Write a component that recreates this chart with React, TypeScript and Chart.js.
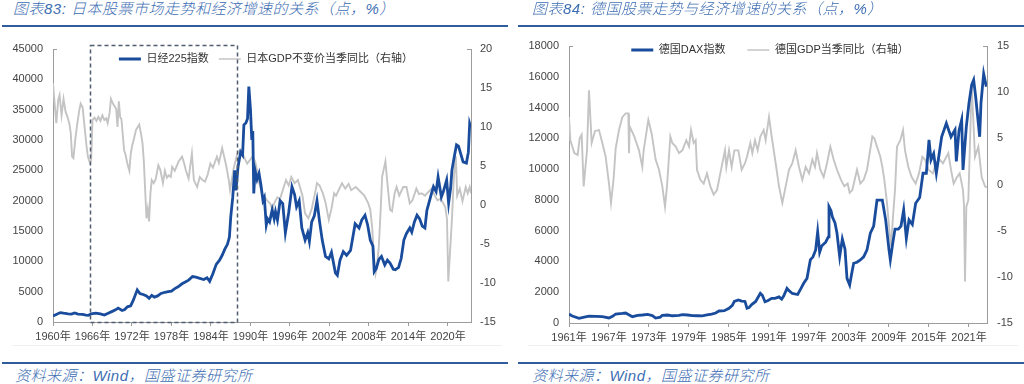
import React, { useEffect, useRef } from 'react';
import { Chart, registerables } from 'chart.js';

Chart.register(...registerables);

// ---------------- Data: Japan ----------------
const jpYears = [1960.0,1960.5,1961.1,1961.6,1962.3,1962.8,1963.3,1963.8,1964.5,1965.0,1965.4,1965.8,1966.5,1967.2,1967.8,1968.3,1969.0,1969.5,1969.9,1970.5,1970.9,1971.3,1971.8,1972.2,1972.8,1973.2,1973.8,1974.2,1974.6,1975.0,1975.4,1975.9,1976.4,1977.0,1977.5,1978.0,1978.5,1979.0,1979.6,1980.1,1980.6,1981.2,1981.7,1982.3,1982.9,1983.4,1983.8,1984.3,1984.8,1985.3,1985.7,1986.1,1986.5,1986.8,1987.0,1987.3,1987.6,1987.8,1988.1,1988.5,1988.8,1989.0,1989.3,1989.55,1989.75,1990.0,1990.2,1990.35,1990.5,1990.7,1991.0,1991.3,1991.6,1991.9,1992.1,1992.4,1992.6,1992.9,1993.3,1993.6,1993.8,1994.1,1994.5,1994.9,1995.3,1995.8,1996.3,1996.7,1997.0,1997.4,1997.8,1998.3,1998.7,1998.95,1999.3,1999.7,2000.1,2000.5,2000.9,2001.4,2001.9,2002.3,2002.9,2003.2,2003.6,2004.1,2004.6,2005.2,2005.9,2006.5,2006.9,2007.4,2007.8,2008.2,2008.6,2008.8,2009.1,2009.5,2009.9,2010.4,2010.8,2011.2,2011.7,2012.0,2012.5,2012.9,2013.3,2013.7,2014.2,2014.5,2014.9,2015.3,2015.7,2016.1,2016.5,2016.8,2017.5,2017.8,2018.2,2018.5,2019.0,2019.3,2019.8,2020.1,2020.4,2020.6,2021.0,2021.3,2021.6,2022.0,2022.3,2022.8,2023.1,2023.3,2023.5];
const nikkei = [1000,1250,1550,1450,1350,1300,1500,1300,1250,1150,1100,1350,1450,1350,1150,1400,1750,2000,2300,1900,2050,2500,2650,3600,5300,4700,4500,4300,3900,4400,4100,4300,4700,4900,5000,5100,5500,5800,6300,6600,6900,7500,7400,7200,7000,7300,6700,8000,9500,10200,11000,12000,12800,14000,17300,20500,25000,21700,25500,28000,27500,32500,32800,33500,38800,35000,30000,31500,21200,25000,23500,24500,22500,20000,20500,16000,17000,16500,18500,17000,18200,16800,20000,19500,14700,18000,22300,21000,19000,20000,15500,13500,14700,13300,16500,17500,20000,16500,13500,10800,10400,11500,8100,7700,10200,11600,11000,11800,16200,15500,16800,17600,16000,13500,12500,8300,8800,10300,10800,9400,10200,9700,8700,8600,9000,10500,13500,14600,15500,14800,16500,17600,17000,15800,15500,18400,21200,22300,21500,23900,20600,21500,23400,19600,22000,25000,27500,29200,29000,27500,26400,26200,28000,32700,32000];

const jpGdpYears = [1960.0,1960.3,1960.5,1960.8,1961.0,1961.3,1961.6,1961.9,1962.2,1962.5,1962.7,1962.9,1963.1,1963.4,1963.7,1964.0,1964.2,1964.5,1964.8,1965.1,1965.3,1965.6,1965.8,1966.0,1966.3,1966.6,1966.9,1967.2,1967.5,1967.8,1968.1,1968.3,1968.6,1968.8,1969.1,1969.4,1969.6,1969.8,1970.0,1970.2,1970.4,1970.8,1971.0,1971.3,1971.6,1971.8,1972.0,1972.3,1972.6,1973.1,1973.4,1973.6,1973.8,1974.0,1974.2,1974.4,1974.6,1974.8,1975.0,1975.3,1975.6,1976.0,1976.3,1976.7,1977.0,1977.3,1977.6,1977.9,1978.1,1978.5,1979.1,1979.6,1979.9,1980.2,1980.6,1981.1,1981.4,1981.9,1982.3,1982.7,1983.1,1983.5,1983.9,1984.3,1984.9,1985.2,1985.7,1986.3,1986.7,1986.9,1987.4,1988.0,1988.5,1989.0,1989.5,1990.3,1990.7,1991.0,1991.3,1991.8,1992.2,1992.5,1993.0,1993.3,1993.7,1994.1,1994.5,1994.9,1995.4,1995.8,1996.2,1996.7,1997.2,1997.9,1998.1,1998.3,1998.8,1999.3,1999.9,2000.1,2000.5,2001.0,2001.4,2001.9,2002.3,2002.7,2003.0,2003.9,2004.4,2004.9,2005.3,2006.0,2006.6,2007.3,2007.9,2008.2,2008.5,2008.7,2009.0,2009.2,2009.5,2009.8,2010.0,2010.5,2010.8,2011.2,2011.5,2011.9,2012.2,2012.6,2013.2,2013.7,2014.2,2014.6,2015.2,2015.6,2016.0,2016.5,2017.5,2018.0,2018.4,2018.9,2019.3,2019.6,2019.85,2020.05,2020.6,2020.9,2021.2,2021.4,2021.8,2022.2,2022.7,2023.0,2023.3,2023.5];
const jpGdp = [15.6,12.5,10.5,13.5,14.1,11.5,13.6,12.0,11.3,10.4,9.2,6.2,6.0,8.5,10.5,12.2,13.0,12.5,10.0,7.5,6.2,5.4,5.8,10.9,11.2,10.8,11.3,10.8,11.5,10.9,11.1,10.5,11.8,13.6,13.0,12.6,12.3,10.0,13.3,11.3,11.0,7.0,6.5,5.3,4.4,6.5,7.5,8.5,9.6,10.3,9.0,7.9,5.6,1.9,-1.7,-0.5,-2.1,1.5,3.2,2.8,3.3,5.1,4.5,2.8,4.4,3.5,3.8,3.6,4.9,4.4,5.6,6.2,5.4,4.4,3.4,6.6,3.2,2.3,3.6,3.2,3.0,3.9,5.3,4.8,6.2,5.4,7.3,5.1,3.2,1.9,4.5,6.6,7.1,6.2,5.3,6.2,5.6,4.5,2.9,1.3,1.0,0.6,0.2,-0.5,0.4,1.0,0.8,1.9,3.2,2.5,3.6,2.8,3.2,1.2,0.0,-1.1,-1.7,-0.5,1.9,2.8,2.5,1.5,0.3,-1.9,-0.5,1.5,1.2,2.8,2.1,2.7,1.9,2.3,1.8,1.2,0.2,-0.6,-3.0,-6.1,-8.8,-8.0,-5.3,-0.2,3.6,5.6,2.8,-0.6,-0.8,1.5,2.3,1.2,2.3,2.3,0.2,0.6,2.1,1.4,1.5,1.2,2.1,1.2,0.6,0.8,0.2,-0.3,-1.8,-9.8,-1.9,3.6,6.2,1.2,2.1,0.5,2.3,1.5,2.3,1.5];

// ---------------- Data: Germany ----------------
const deYears = [1961.0,1961.5,1962.5,1963.3,1964.0,1965.0,1966.0,1967.0,1967.6,1968.0,1969.0,1969.5,1970.5,1971.3,1972.0,1972.8,1973.5,1974.0,1974.7,1975.0,1975.8,1976.5,1977.5,1978.0,1978.8,1979.5,1980.3,1981.0,1981.7,1982.4,1983.0,1983.5,1984.3,1985.0,1985.5,1985.8,1986.4,1986.9,1987.4,1987.7,1988.0,1988.4,1989.0,1989.7,1990.0,1990.4,1990.8,1991.4,1991.9,1992.5,1992.9,1993.2,1993.7,1994.0,1994.5,1995.3,1995.8,1996.2,1996.7,1997.2,1997.6,1998.0,1998.3,1998.6,1998.9,1999.5,1999.9,2000.0,2000.3,2000.5,2000.9,2001.2,2001.6,2002.0,2002.4,2002.7,2003.1,2003.4,2003.7,2004.2,2004.7,2005.2,2005.7,2006.2,2006.7,2007.2,2008.0,2008.5,2009.0,2009.2,2009.6,2009.9,2010.4,2010.8,2011.2,2011.6,2012.0,2012.5,2013.0,2013.6,2014.1,2014.6,2015.0,2015.3,2015.7,2016.1,2016.9,2017.6,2018.3,2018.9,2019.1,2019.5,2019.9,2020.1,2020.6,2021.0,2021.4,2021.7,2022.0,2022.6,2022.8,2023.2,2023.6];
const dax = [585,450,305,380,450,430,410,330,450,585,620,650,410,500,520,560,480,320,380,500,520,470,500,540,520,480,470,460,520,580,650,780,800,955,1150,1400,1500,1420,1400,955,1000,1200,1400,1930,1800,1380,1450,1600,1600,1700,1550,1750,2250,2100,1920,1850,2250,2580,2900,4100,4300,4750,5930,4600,5000,5250,5600,7560,7300,6900,6500,5830,4310,5460,4800,2900,2470,3200,3880,3950,4100,4300,4750,5830,6300,7990,7990,6700,4750,4100,5300,6100,6100,6300,7350,5500,6700,6400,7780,8150,9730,9730,11900,10600,11000,9730,12100,12980,12100,12550,10500,12500,13200,9950,12760,14300,15470,15800,14700,12100,14300,16200,15360];

const deGdpYears = [1961.0,1961.2,1961.8,1962.3,1962.6,1962.9,1963.2,1963.7,1964.0,1964.4,1964.9,1965.5,1966.0,1966.5,1967.0,1967.3,1967.7,1968.0,1968.5,1969.0,1969.5,1969.9,1970.0,1970.1,1970.8,1971.5,1972.0,1972.2,1972.9,1973.4,1974.0,1974.5,1975.0,1975.4,1975.7,1976.2,1976.5,1977.0,1977.5,1978.0,1978.6,1979.0,1979.3,1979.7,1980.0,1980.2,1980.7,1981.2,1981.7,1982.2,1982.7,1983.2,1983.7,1984.2,1984.4,1984.6,1985.0,1985.4,1985.8,1986.4,1986.9,1987.4,1987.7,1988.2,1988.5,1988.9,1989.3,1989.7,1990.2,1990.5,1991.0,1991.4,1992.0,1992.5,1993.0,1993.5,1994.0,1994.5,1995.0,1995.5,1996.0,1996.5,1997.0,1997.5,1997.9,1998.2,1998.7,1999.2,1999.7,2000.2,2000.7,2001.2,2001.8,2002.3,2002.8,2003.1,2003.5,2004.2,2004.7,2005.2,2005.7,2006.5,2006.8,2007.2,2007.7,2008.0,2008.3,2008.7,2009.0,2009.3,2009.6,2009.9,2010.2,2010.7,2011.1,2011.4,2011.9,2012.4,2013.0,2013.5,2014.0,2014.4,2014.9,2015.6,2016.0,2016.6,2017.1,2017.9,2018.3,2018.7,2019.2,2019.6,2019.8,2020.1,2020.25,2020.4,2020.6,2020.9,2021.4,2021.9,2022.4,2022.9,2023.4,2023.7];
const deGdp = [7.3,4.8,3.4,3.2,5.0,5.4,-0.2,3.7,10.2,4.5,5.8,5.9,4.5,3.0,0.1,-2.0,0.7,3.9,5.9,7.3,7.7,7.7,3.4,6.3,5.2,3.7,1.9,3.7,7.0,5.5,2.7,1.6,-0.2,-2.4,-0.2,5.2,4.5,4.1,3.4,3.7,4.8,4.1,5.9,4.5,4.8,1.6,0.5,0.1,1.2,-0.2,-1.1,-0.6,1.2,3.0,3.7,1.9,3.7,1.9,3.7,3.7,1.6,2.3,3.0,4.5,3.4,4.8,3.7,5.2,5.9,4.8,7.3,5.2,2.3,-0.2,-2.0,-0.2,1.6,2.3,3.7,1.9,0.5,1.9,1.2,2.7,1.9,3.4,1.6,0.8,2.3,4.1,2.7,1.6,0.5,-0.2,0.1,-0.9,-0.6,1.6,0.1,0.5,1.6,5.2,5.0,4.1,3.0,1.9,0.5,-2.0,-4.5,-6.7,-3.5,-0.6,4.1,4.8,5.9,3.7,1.9,0.8,0.1,1.2,3.0,2.7,1.6,1.2,2.3,2.7,2.3,3.4,1.6,0.1,0.8,1.2,0.5,-0.6,-2.3,-10.5,-2.4,-1.7,10.8,3.0,4.1,0.8,-0.2,-0.3];

// ---------------- Axis ticks / labels ----------------
const jpXTicks = [1960, 1966, 1972, 1978, 1984, 1990, 1996, 2002, 2008, 2014, 2020];
const deXTicks = [1961, 1967, 1973, 1979, 1985, 1991, 1997, 2003, 2009, 2015, 2021];
const jpLabels = ['日经225指数', '日本GDP不变价当季同比（右轴）'];
const deLabels = ['德国DAX指数', '德国GDP当季同比（右轴）'];
const jpHighlight = [1965.6, 1988.0, 0, 45700]; // x from, x to, y from, y to (left axis units)

const FONT = "'Liberation Sans', 'Noto Sans CJK SC', sans-serif";
const TITLE_FONT = "'Liberation Sans', 'Noto Sans CJK SC', sans-serif";
const BLUE = '#194c9c';
const GRAY = '#c4c4c4';
const AXIS = '#9c9c9c';
const TICK = '#444444';
const TITLE_BLUE = '#3d6db2';
const RULE_BLUE = '#2e5c9c';

const legendShift = {
  id: 'legendShift',
  afterLayout(chart: any, _args: any, opts: any) {
    const lg = chart.legend;
    if (!lg || opts.y == null) return;
    const pad = chart.options.plugins.legend.labels.padding;
    const newTop = opts.y - pad - 5.5;
    const dy = newTop - lg.top;
    lg.top += dy;
    lg.bottom += dy;
    lg.left += opts.dx || 0;
    lg.right += opts.dx || 0;
  },
};

const dashBox = {
  id: 'dashBox',
  afterDatasetsDraw(chart: any, _args: any, opts: any) {
    const { ctx, chartArea } = chart;
    // small inward caps at the top of both value axes
    ctx.save();
    ctx.strokeStyle = AXIS;
    ctx.lineWidth = 1;
    ctx.beginPath();
    ctx.moveTo(chartArea.left, Math.round(chartArea.top) + 0.5);
    ctx.lineTo(chartArea.left + 4, Math.round(chartArea.top) + 0.5);
    ctx.moveTo(chartArea.right - 4, Math.round(chartArea.top) + 0.5);
    ctx.lineTo(chartArea.right, Math.round(chartArea.top) + 0.5);
    ctx.stroke();
    ctx.restore();
    if (!opts.range) return;
    const { scales } = chart;
    const x0 = scales.x.getPixelForValue(opts.range[0]);
    const x1 = scales.x.getPixelForValue(opts.range[1]);
    const y0 = scales.y.getPixelForValue(opts.range[2]);
    const y1 = scales.y.getPixelForValue(opts.range[3]);
    ctx.save();
    ctx.setLineDash([4, 3]);
    ctx.lineWidth = 1.5;
    ctx.strokeStyle = '#4f5d6c';
    ctx.strokeRect(Math.round(x0) + 0.5, Math.round(y1) + 0.5, Math.round(x1 - x0), Math.round(y0 - y1));
    ctx.restore();
  },
};

function makeConfig(p: any) {
  const font = { family: FONT, size: 11 };
  return {
    type: 'line',
    data: {
      datasets: [
        {
          label: p.labels[0],
          data: p.xa.map((x: number, i: number) => ({ x, y: p.ya[i] })),
          yAxisID: 'y',
          borderColor: BLUE,
          backgroundColor: BLUE,
          borderWidth: 2.8,
          pointRadius: 0,
          tension: 0,
        },
        {
          label: p.labels[1],
          data: p.xb.map((x: number, i: number) => ({ x, y: p.yb[i] })),
          yAxisID: 'y2',
          borderColor: GRAY,
          backgroundColor: GRAY,
          borderWidth: 1.9,
          pointRadius: 0,
          tension: 0,
        },
      ],
    },
    options: {
      responsive: false,
      animation: false,
      devicePixelRatio: 1,
      layout: { padding: 0 },
      plugins: {
        legend: {
          display: true,
          position: 'top',
          labels: {
            usePointStyle: true,
            pointStyleWidth: 22,
            padding: p.legendPad,
            font,
            color: '#333333',
            generateLabels: (chart: any) =>
              chart.data.datasets.map((ds: any, i: number) => ({
                text: ds.label,
                fillStyle: ds.borderColor,
                strokeStyle: ds.borderColor,
                lineWidth: i === 0 ? 3 : 1.5,
                pointStyle: 'line',
                hidden: false,
                datasetIndex: i,
                fontColor: '#333333',
                lineCap: 'butt',
              })),
          },
        },
        tooltip: { enabled: false },
        legendShift: { y: p.legendY, dx: p.legendDx },
        dashBox: { range: p.box },
      },
      scales: {
        x: {
          type: 'linear',
          position: 'bottom',
          min: p.xMin,
          max: p.xMax,
          afterBuildTicks: (s: any) => {
            s.ticks = p.xTicks.map((v: number) => ({ value: v }));
          },
          afterFit: (s: any) => {
            s.height = 30;
          },
          ticks: {
            callback: (v: any) => v + '年',
            font,
            color: TICK,
            padding: 4,
            autoSkip: false,
            maxRotation: 0,
          },
          grid: { display: true, drawOnChartArea: false, drawTicks: true, tickLength: 4, color: AXIS },
          border: { display: true, color: AXIS, width: 1 },
        },
        y: {
          position: 'left',
          min: p.yMin,
          max: p.yMax,
          afterFit: (s: any) => {
            s.width = p.leftW;
          },
          ticks: { stepSize: p.yStep, font, color: TICK, padding: 10, callback: (v: any) => String(v) },
          grid: { display: false, drawTicks: false },
          border: { display: true, color: AXIS, width: 1 },
        },
        y2: {
          position: 'right',
          min: p.y2Min,
          max: p.y2Max,
          afterFit: (s: any) => {
            s.width = p.rightW;
          },
          ticks: { stepSize: 5, font, color: TICK, padding: p.rightPad, callback: (v: any) => String(v) },
          grid: { display: false, drawTicks: false },
          border: { display: true, color: AXIS, width: 1 },
        },
      },
    },
    plugins: [legendShift, dashBox],
  };
}

function ChartCanvas({ p, left, top, width, height }: any) {
  const ref = useRef<HTMLCanvasElement>(null);
  useEffect(() => {
    const chart = new Chart(ref.current as any, makeConfig(p) as any);
    return () => chart.destroy();
  }, []);
  return (
    <canvas
      ref={ref}
      width={width}
      height={height}
      style={{ position: 'absolute', left, top, width, height }}
    />
  );
}

const jpPanel = {
  labels: jpLabels,
  xa: jpYears, ya: nikkei, xb: jpGdpYears, yb: jpGdp,
  xMin: 1960, xMax: 2023.5, xTicks: jpXTicks,
  yMin: 0, yMax: 45000, yStep: 5000,
  y2Min: -15, y2Max: 20,
  leftW: 53, rightW: 41, rightPad: 9,
  legendPad: 10, legendY: 41, legendDx: 10,
  box: jpHighlight,
};

const dePanel = {
  labels: deLabels,
  xa: deYears, ya: dax, xb: deGdpYears, yb: deGdp,
  xMin: 1961, xMax: 2023.7, xTicks: deXTicks,
  yMin: 0, yMax: 18000, yStep: 2000,
  y2Min: -15, y2Max: 15,
  leftW: 57, rightW: 37, rightPad: 10,
  legendPad: 22, legendY: 47, legendDx: 2,
  box: null,
};

const titleStyle: any = {
  position: 'absolute',
  top: 0,
  fontFamily: TITLE_FONT,
  fontStyle: 'italic',
  fontWeight: 300,
  fontSize: 15,
  lineHeight: '18px',
  color: TITLE_BLUE,
  whiteSpace: 'nowrap',
  letterSpacing: '0.5px',
};

const footStyle: any = { ...titleStyle, top: 367, lineHeight: '17px' };

export default function App() {
  useEffect(() => {
    document.body.style.margin = '0';
  }, []);
  return (
    <div style={{ position: 'absolute', left: 0, top: 0, width: 1024, height: 384, background: '#ffffff', overflow: 'hidden' }}>
      <ChartCanvas p={jpPanel} left={0} top={18} width={512} height={334} />
      <ChartCanvas p={dePanel} left={512} top={3} width={512} height={350} />

      <div style={{ ...titleStyle, left: 13 }}>图表83: 日本股票市场走势和经济增速的关系（点，%）</div>
      <div style={{ ...titleStyle, left: 532 }}>图表84: 德国股票走势与经济增速的关系（点，%）</div>

      <div style={{ position: 'absolute', left: 2, top: 25, width: 506, height: 2, background: RULE_BLUE }} />
      <div style={{ position: 'absolute', left: 518, top: 25, width: 506, height: 2, background: RULE_BLUE }} />

      <div style={{ position: 'absolute', left: 12, top: 345, width: 490, height: 1, background: '#f0f0f0' }} />
      <div style={{ position: 'absolute', left: 528, top: 345, width: 490, height: 1, background: '#f0f0f0' }} />

      <div style={{ position: 'absolute', left: 2, top: 362, width: 506, height: 2, background: RULE_BLUE }} />
      <div style={{ position: 'absolute', left: 518, top: 362, width: 506, height: 2, background: RULE_BLUE }} />

      <div style={{ ...footStyle, left: 15 }}>资料来源：Wind，国盛证券研究所</div>
      <div style={{ ...footStyle, left: 532 }}>资料来源：Wind，国盛证券研究所</div>
    </div>
  );
}
